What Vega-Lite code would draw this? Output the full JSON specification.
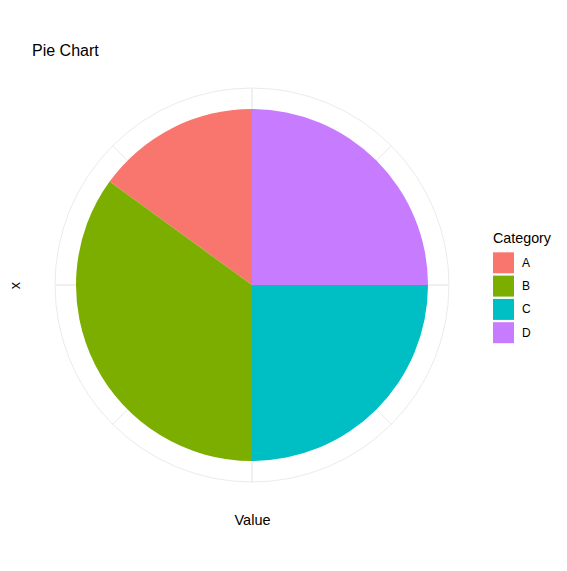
{
  "$schema": "https://vega.github.io/schema/vega-lite/v6.json",
  "width": 440,
  "height": 440,
  "autosize": {"type": "none"},
  "padding": {"left": 32, "top": 65, "right": 95, "bottom": 66},
  "background": "white",
  "config": {
    "view": {"stroke": null},
    "font": "Liberation Sans",
    "title": {"fontSize": 16, "fontWeight": "normal", "color": "black", "anchor": "start", "frame": "group", "offset": 6},
    "axis": {"titleFontSize": 14.5, "titleFontWeight": "normal", "titleColor": "black"},
    "legend": {"titleFontSize": 14.3, "titleFontWeight": "normal", "titleColor": "black", "labelFontSize": 12, "labelColor": "black"}
  },
  "title": "Pie Chart",
  "datasets": {
    "pie": [
      {"Category": "A", "Value": 15},
      {"Category": "B", "Value": 35},
      {"Category": "C", "Value": 25},
      {"Category": "D", "Value": 25}
    ],
    "spokes": [
      {"g": 0}, {"g": 12.5}, {"g": 25}, {"g": 37.5}, {"g": 50}, {"g": 62.5}, {"g": 75}, {"g": 87.5}
    ],
    "ring": [
      {"s": 0, "e": 100}
    ]
  },
  "layer": [
    {
      "data": {"name": "spokes"},
      "mark": {"type": "point", "opacity": 0},
      "encoding": {
        "x": {"field": "g", "type": "quantitative", "scale": {"domain": [0, 100]},
              "axis": {"title": "Value", "labels": false, "ticks": false, "domain": false, "grid": false, "titlePadding": 8}},
        "y": {"field": "g", "type": "quantitative", "scale": {"domain": [0, 100]},
              "axis": {"title": "x", "labels": false, "ticks": false, "domain": false, "grid": false, "titlePadding": 10}}
      }
    },
    {
      "data": {"name": "spokes"},
      "mark": {"type": "arc", "filled": false, "stroke": "#EBEBEB", "strokeWidth": 1, "outerRadius": 197, "innerRadius": 0},
      "encoding": {
        "theta": {"field": "g", "type": "quantitative", "scale": {"domain": [0, 100], "range": [0, 6.283185307179586]}},
        "theta2": {"field": "g"}
      }
    },
    {
      "data": {"name": "ring"},
      "mark": {"type": "arc", "filled": false, "stroke": "#EBEBEB", "strokeWidth": 1, "outerRadius": 197, "innerRadius": 0},
      "encoding": {
        "theta": {"field": "s", "type": "quantitative", "scale": {"domain": [0, 100], "range": [0, 6.283185307179586]}},
        "theta2": {"field": "e"}
      }
    },
    {
      "data": {"name": "pie"},
      "mark": {"type": "arc", "outerRadius": 176, "innerRadius": 0},
      "encoding": {
        "theta": {"field": "Value", "type": "quantitative", "stack": true, "scale": {"domain": [0, 100], "range": [0, 6.283185307179586]}},
        "order": {"field": "Category", "sort": "descending"},
        "color": {
          "field": "Category", "type": "nominal",
          "scale": {"domain": ["A", "B", "C", "D"], "range": ["#F8766D", "#7CAE00", "#00BFC4", "#C77CFF"]},
          "legend": {
            "orient": "none", "legendX": 461, "legendY": 167,
            "symbolType": "square", "symbolSize": 441, "symbolStrokeWidth": 0, "symbolOpacity": 1,
            "rowPadding": 2.3, "labelOffset": 8, "titlePadding": 6
          }
        }
      }
    }
  ]
}
